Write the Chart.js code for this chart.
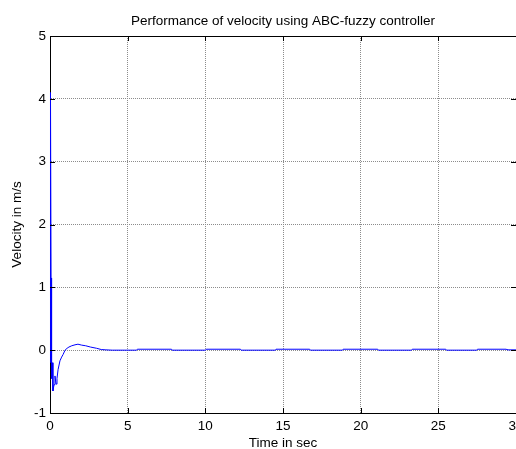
<!DOCTYPE html>
<html>
<head>
<meta charset="utf-8">
<script src="https://cdn.jsdelivr.net/npm/chart.js@4/dist/chart.umd.min.js"></script>
<style>
html,body{margin:0;padding:0;overflow:hidden;background:#fff;width:516px;height:449px;}
canvas{display:block;}
</style>
</head>
<body>
<canvas id="c" width="555" height="460"></canvas>
<script>
// time in seconds
const timeSec = [0.03, 0.032, 0.07, 0.085, 0.10, 0.12, 0.15, 0.19, 0.26, 0.32, 0.39, 0.45, 0.52, 0.64, 0.75, 0.84, 0.97, 1.10, 1.22, 1.40, 1.61, 1.80, 2.04, 2.30, 2.60, 3.00, 3.30, 3.60, 4.00,
  5.58, 5.62, 7.82, 7.86, 10.02, 10.06, 12.26, 12.30, 14.51, 14.55, 16.72, 16.76, 18.83, 18.87, 21.10, 21.14, 23.28, 23.32, 25.48, 25.52, 27.48, 27.52, 29.38, 29.42, 30.0];
// velocity in m/s
const velocity = [-0.2, 4.1, 1.15, -0.45, -0.1, -0.45, -0.2, -0.65, -0.55, -0.41, -0.54, -0.45, -0.31, -0.17, -0.11, -0.07, 0.0, 0.03, 0.05, 0.07, 0.085, 0.095, 0.08, 0.07, 0.05, 0.03, 0.01, 0.005, 0.0,
  0.0, 0.015, 0.015, 0.0, 0.0, 0.015, 0.015, 0.0, 0.0, 0.015, 0.015, 0.0, 0.0, 0.015, 0.015, 0.0, 0.0, 0.015, 0.015, 0.0, 0.0, 0.015, 0.015, 0.005, 0.005];
const xTicks = [0, 5, 10, 15, 20, 25, 30];
const yTicks = [-1, 0, 1, 2, 3, 4, 5];
const chartTitle = 'Performance of velocity using ABC-fuzzy controller';
const xLabel = 'Time in sec';
const yLabel = 'Velocity in m/s';

const FONT = "'Liberation Sans', Arial, Helvetica, sans-serif";
const points = timeSec.map((t, i) => ({x: t, y: velocity[i]}));

const inwardTicks = {
  id: 'inwardTicks',
  afterDraw(chart) {
    const {ctx, chartArea: a, scales} = chart;
    ctx.save();
    ctx.strokeStyle = '#000';
    ctx.lineWidth = 1;
    ctx.beginPath();
    xTicks.forEach(v => {
      const px = Math.round(scales.x.getPixelForValue(v)) + 0.5;
      ctx.moveTo(px, a.bottom); ctx.lineTo(px, a.bottom - 5);
      ctx.moveTo(px, a.top); ctx.lineTo(px, a.top + 5);
    });
    yTicks.forEach(v => {
      const py = Math.round(scales.y.getPixelForValue(v)) + 0.5;
      ctx.moveTo(a.left, py); ctx.lineTo(a.left + 5, py);
      ctx.moveTo(a.right, py); ctx.lineTo(a.right - 5, py);
    });
    ctx.stroke();
    ctx.restore();
  }
};

new Chart(document.getElementById('c'), {
  type: 'line',
  data: {
    datasets: [{
      data: points,
      borderColor: '#0000ff',
      borderWidth: 1,
      pointRadius: 0,
      tension: 0,
      fill: false,
      clip: false
    }]
  },
  options: {
    responsive: false,
    animation: false,
    devicePixelRatio: 1,
    layout: {padding: {left: 0, right: 39, top: 0, bottom: 0}},
    plugins: {
      legend: {display: false},
      tooltip: {enabled: false},
      title: {
        display: true,
        text: chartTitle,
        fullSize: false,
        color: '#000',
        font: {family: FONT, size: 13.5, weight: 'normal', lineHeight: 1.2},
        padding: {top: 13.5, bottom: 6.3}
      }
    },
    scales: {
      x: {
        type: 'linear',
        position: 'bottom',
        min: 0, max: 30,
        afterBuildTicks: s => { s.ticks = xTicks.map(v => ({value: v})); },
        afterFit: s => { s.height = 47; },
        grid: {display: true, drawTicks: false, color: '#8c8c8c', lineWidth: 1},
        border: {display: true, color: '#000', width: 1, dash: [1, 1]},
        ticks: {color: '#000', padding: 5, maxRotation: 0, font: {family: FONT, size: 13.5}},
        title: {display: true, text: xLabel, color: '#000', font: {family: FONT, size: 13.5, lineHeight: 1.2}, padding: {top: 0, bottom: 8.6}}
      },
      x2: {
        type: 'linear',
        position: 'top',
        min: 0, max: 30,
        afterFit: s => { s.height = 0; },
        grid: {display: false, drawTicks: false},
        border: {display: true, color: '#000', width: 1},
        ticks: {display: false}
      },
      y: {
        type: 'linear',
        position: 'left',
        min: -1, max: 5,
        afterBuildTicks: s => { s.ticks = yTicks.map(v => ({value: v})); },
        afterFit: s => { s.width = 50; },
        grid: {display: true, drawTicks: false, color: '#8c8c8c', lineWidth: 1},
        border: {display: true, color: '#000', width: 1, dash: [1, 1]},
        ticks: {color: '#000', padding: 4, font: {family: FONT, size: 13.5}},
        title: {display: true, text: yLabel, color: '#000', font: {family: FONT, size: 13.5, lineHeight: 1.2}, padding: {top: 9.1, bottom: 0}}
      }
    }
  },
  plugins: [inwardTicks]
});
</script>
</body>
</html>
